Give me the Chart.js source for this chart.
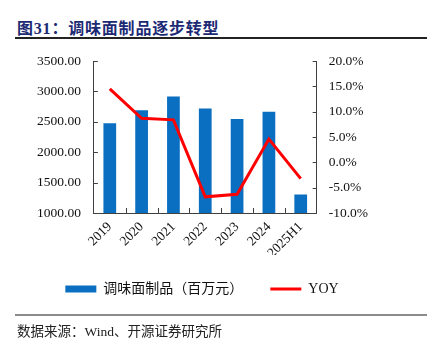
<!DOCTYPE html>
<html>
<head>
<meta charset="utf-8">
<script src="https://cdn.jsdelivr.net/npm/chart.js@4"></script>
<style>
  html, body { margin: 0; padding: 0; background: #fff; }
  #page { position: relative; width: 430px; height: 349px; overflow: hidden; }
  #title {
    position: absolute; left: 17px; top: 15px;
    font: bold 16px "Liberation Serif", "Noto Sans CJK SC", serif;
    color: #1c2a74; letter-spacing: 0.8px; white-space: nowrap;
  }
  #topRule { position: absolute; left: 15px; top: 37px; width: 412px; height: 2px; background: #222; }
  #chartBox { position: absolute; left: 0; top: 40px; width: 430px; height: 309px; }
  #bottomRule { position: absolute; left: 15px; top: 314px; width: 412px; height: 2px; background: #8c8c8c; }
  #source {
    position: absolute; left: 17px; top: 320px;
    font: 13.5px "Liberation Serif", "Noto Sans CJK SC", serif;
    color: #222; white-space: nowrap;
  }
</style>
</head>
<body>
<div id="page">
  <div id="title">图31：调味面制品逐步转型</div>
  <div id="topRule"></div>
  <div id="chartBox"><canvas id="Chart"></canvas></div>
  <div id="bottomRule"></div>
  <div id="source">数据来源：Wind、开源证券研究所</div>
</div>
<script>
// years and values
let years = ['2019', '2020', '2021', '2022', '2023', '2024', '2025H1'];
let revenue = [2477, 2693, 2919, 2720, 2549, 2665, 1304];   // 百万元
let yoy = [14.5, 8.7, 8.4, -6.8, -6.3, 4.6, -3.2];          // %

let barColor = '#0a6fc0';
let lineColor = '#ff0000';
let axisColor = '#404040';
let tickFont = { family: '"Liberation Serif", serif', size: 13.5 };

// short tick marks pointing into the plot
const innerTicks = {
    id: 'innerTicks',
    afterDraw(chart) {
        const { ctx, chartArea: a, scales } = chart;
        ctx.save();
        ctx.strokeStyle = axisColor;
        ctx.lineWidth = 1;
        ctx.beginPath();
        scales.y.ticks.forEach((t, i) => {
            let py = Math.round(scales.y.getPixelForTick(i)) + 0.5;
            ctx.moveTo(a.left, py);
            ctx.lineTo(a.left + 4, py);
        });
        scales.y1.ticks.forEach((t, i) => {
            let py = Math.round(scales.y1.getPixelForTick(i)) + 0.5;
            ctx.moveTo(a.right, py);
            ctx.lineTo(a.right - 4, py);
        });
        for (let i = 1; i < years.length; i++) {
            let px = Math.round((scales.x.getPixelForValue(i - 1) + scales.x.getPixelForValue(i)) / 2) + 0.5;
            ctx.moveTo(px, a.bottom);
            ctx.lineTo(px, a.bottom - 5);
        }
        ctx.stroke();
        ctx.restore();
    }
};

let ctx = document.getElementById('Chart').getContext('2d');
let myChart = new Chart(ctx, {
    type: 'bar',
    data: {
        labels: years,
        datasets: [{
            label: '调味面制品（百万元）',
            data: revenue,
            backgroundColor: barColor,
            borderWidth: 0,
            barPercentage: 0.4,
            categoryPercentage: 1,
            yAxisID: 'y',
            order: 1
        }, {
            type: 'line',
            label: 'YOY',
            data: yoy,
            borderColor: lineColor,
            backgroundColor: lineColor,
            borderWidth: 3,
            pointRadius: 0,
            tension: 0,
            yAxisID: 'y1',
            order: 0
        }]
    },
    options: {
        responsive: true,
        maintainAspectRatio: false,
        animation: false,
        layout: { padding: { top: 0, left: 24, right: 50, bottom: 43 } },
        plugins: {
            tooltip: { enabled: false },
            legend: {
                position: 'bottom',
                labels: {
                    usePointStyle: true,
                    pointStyleWidth: 31,
                    boxHeight: 7,
                    padding: 27,
                    color: '#111',
                    font: { family: '"Liberation Serif", "Noto Sans CJK SC", serif', size: 14 },
                    sort: (a, b) => a.datasetIndex - b.datasetIndex,
                    generateLabels(chart) {
                        let items = Chart.defaults.plugins.legend.labels.generateLabels(chart);
                        items.forEach(it => {
                            it.pointStyle = it.datasetIndex === 0 ? 'rect' : 'line';
                            if (it.datasetIndex === 1) it.lineWidth = 3;
                        });
                        return items;
                    }
                }
            }
        },
        scales: {
            x: {
                grid: { display: false, drawTicks: false },
                border: { display: true, color: axisColor, width: 1 },
                ticks: { color: '#111', font: tickFont, maxRotation: 45, minRotation: 45, padding: 6 },
                afterFit(scale) { scale.height = 42; }
            },
            y: {
                position: 'left',
                min: 1000,
                max: 3500,
                grid: { display: false, drawTicks: false },
                border: { display: true, color: axisColor, width: 1 },
                ticks: {
                    stepSize: 500,
                    padding: 13,
                    color: '#111',
                    font: tickFont,
                    callback: v => v.toFixed(2)
                }
            },
            y1: {
                position: 'right',
                min: -10,
                max: 20,
                grid: { display: false, drawTicks: false },
                border: { display: true, color: axisColor, width: 1 },
                ticks: {
                    stepSize: 5,
                    padding: 12,
                    color: '#111',
                    font: tickFont,
                    callback: v => v.toFixed(1) + '%'
                }
            }
        }
    },
    plugins: [innerTicks]
});
</script>
</body>
</html>
